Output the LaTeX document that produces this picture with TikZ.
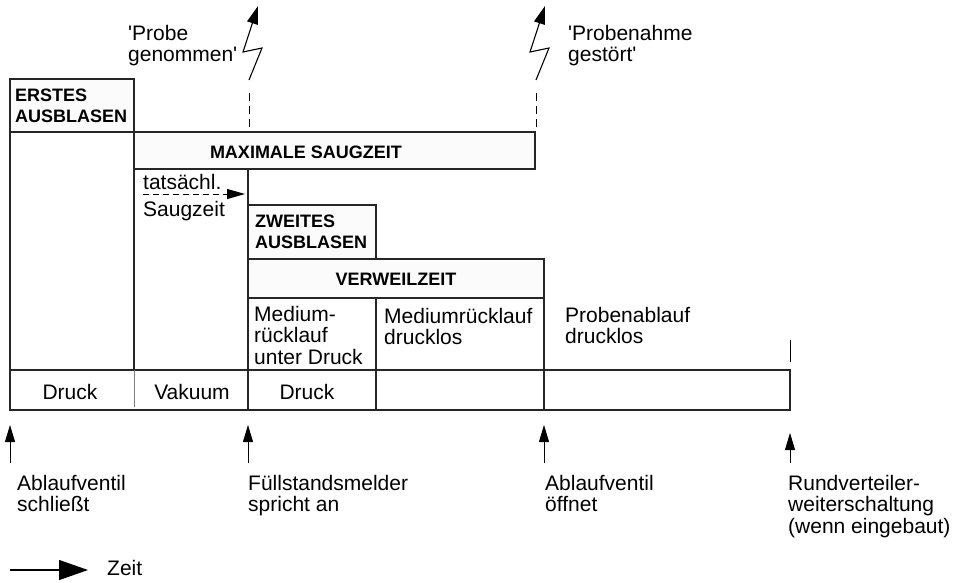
\documentclass[tikz,border=0pt]{standalone}
\usepackage{fontspec}
\setmainfont{Liberation Sans}
\usetikzlibrary{arrows.meta}
\begin{document}
\begin{tikzpicture}[x=1pt,y=-1pt,
  box/.style={draw=black!85, line width=1.3pt},
  boxfill/.style={box, fill=gray!3},
  lbl/.style={font=\fontsize{21}{21.5}\selectfont, align=left, inner sep=0pt, anchor=north west},
  blbl/.style={font=\fontsize{18}{21}\selectfont\bfseries, align=left, inner sep=0pt, anchor=north west},
  cell/.style={font=\fontsize{21}{21.5}\selectfont, inner sep=0pt, anchor=base},
  guide/.style={line width=1pt, dash pattern=on 8pt off 5pt},
  bolt/.style={line width=1.1pt, -{Triangle[length=18pt,width=11pt]}},
  tickarrow/.style={line width=0.8pt, -{Triangle[length=17pt,width=10pt]}},
]
\useasboundingbox (0,0) rectangle (961,582);

% boxes
\draw[boxfill] (10,79) rectangle (134,132);
\draw[boxfill] (134,132) rectangle (535,169);
\draw[box] (10,132) -- (10,370);
\draw[box] (134,169) -- (134,370);
\draw[box] (248,169) -- (248,370);
\draw[boxfill] (248,205) rectangle (376,259);
\draw[boxfill] (248,259) rectangle (544,298);
\draw[box] (376,298) -- (376,370);
\draw[box] (544,298) -- (544,370);
\draw[box] (10,370) rectangle (790,410);
\draw[box] (248,370) -- (248,410);
\draw[box] (376,370) -- (376,410);
\draw[box] (544,370) -- (544,410);
\draw[gray, line width=1pt] (134,370) -- (134,407);
\draw[line width=1pt] (790,340) -- (790,362);

% dashed guides and lightning arrows
\coordinate (g1a) at (249,93);  \coordinate (g1b) at (249,128);
\coordinate (g2a) at (536,93);  \coordinate (g2b) at (536,128);
\draw[guide] (g1a) -- (g1b);
\draw[guide] (g2a) -- (g2b);
\coordinate (b1) at (249,80); \coordinate (b1t) at (258,6);
\coordinate (b2) at (536,80); \coordinate (b2t) at (545,6);
\draw[bolt] (b1) -- (262,48) -- (243,52) -- (b1t);
\draw[bolt] (b2) -- (549,48) -- (530,52) -- (b2t);

% texts
\node[lbl] (probe) at (128,25) {\textquotesingle Probe\\genommen\textquotesingle};
\node[lbl] (gestoert) at (568,25) {\textquotesingle Probenahme\\gestört\textquotesingle};
\node[blbl] (erstes) at (15,89) {ERSTES\\AUSBLASEN};
\node[blbl, anchor=base] (maxsaug) at (306,158) {MAXIMALE SAUGZEIT};
\node[lbl, font=\fontsize{21}{27}\selectfont] (tats) at (143,174) {tatsächl.\\Saugzeit};
\node[blbl] (zweites) at (255,215) {ZWEITES\\AUSBLASEN};
\node[blbl, anchor=base] (verweil) at (396,285) {VERWEILZEIT};
\node[lbl] (medium1) at (254,306) {Medium-\\rücklauf\\unter Druck};
\node[lbl] (medium2) at (384,308) {Mediumrücklauf\\drucklos};
\node[lbl] (proben) at (565,307) {Probenablauf\\drucklos};
\node[cell] (druck1) at (70,399) {Druck};
\node[cell] (vakuum) at (192,399) {Vakuum};
\node[cell] (druck2) at (307,399) {Druck};

% dashed arrow
\coordinate (ta) at (143,194); \coordinate (tb) at (245,194);
\draw[line width=1pt, dash pattern=on 6pt off 4pt, -{Triangle[length=18pt,width=10pt]}] (ta) -- (tb);

% time markers
\coordinate (m1) at (10,463);  \coordinate (m1t) at (10,425);
\coordinate (m2) at (248,463); \coordinate (m2t) at (248,425);
\coordinate (m3) at (544,463); \coordinate (m3t) at (544,425);
\coordinate (m4) at (790,463); \coordinate (m4t) at (790,433);
\draw[tickarrow] (m1) -- (m1t);
\draw[tickarrow] (m2) -- (m2t);
\draw[tickarrow] (m3) -- (m3t);
\draw[tickarrow] (m4) -- (m4t);
\node[lbl] (l1) at (17,475) {Ablaufventil\\schließt};
\node[lbl] (l2) at (248,475) {Füllstandsmelder\\spricht an};
\node[lbl] (l3) at (545,475) {Ablaufventil\\öffnet};
\node[lbl] (l4) at (788,475) {Rundverteiler-\\weiterschaltung\\(wenn eingebaut)};

% time legend
\node[lbl, anchor=base west] (zeit) at (107,575) {Zeit};
\coordinate (z0) at (10,570);
\coordinate (z1) at (88,570);
\draw[line width=1.2pt, -{Triangle[length=29pt,width=20pt]}] (z0) -- (z1);
\end{tikzpicture}
\end{document}
